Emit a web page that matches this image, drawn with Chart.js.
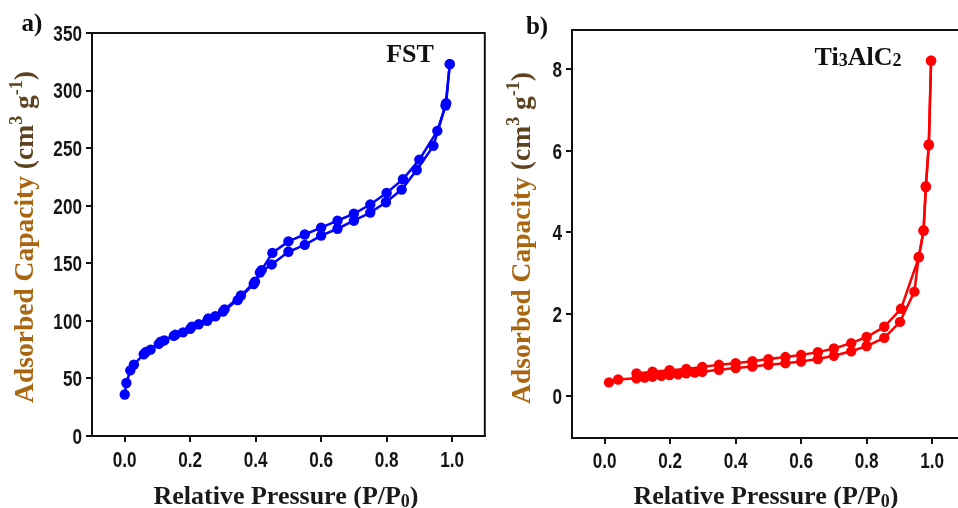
<!DOCTYPE html>
<html>
<head>
<meta charset="utf-8">
<script src="https://cdn.jsdelivr.net/npm/chart.js@4.4.1/dist/chart.umd.min.js"></script>
<style>
  html, body { margin: 0; padding: 0; background: #fff; overflow: hidden; width: 958px; height: 508px; }
  #panelA { position: absolute; left: 0; top: 0; }
  #panelB { position: absolute; left: 490px; top: 0; }
</style>
</head>
<body>
<canvas id="panelA" width="490" height="508"></canvas>
<canvas id="panelB" width="480" height="508"></canvas>
<script>
// ---- N2 isotherm data: FST ----
const fstAdsP = [0.000, 0.005, 0.017, 0.028, 0.058, 0.079, 0.104, 0.121, 0.150, 0.178, 0.200, 0.226, 0.252, 0.277, 0.300, 0.345, 0.394, 0.413, 0.449, 0.500, 0.550, 0.600, 0.650, 0.700, 0.750, 0.798, 0.846, 0.892, 0.943, 0.980, 0.993];
const fstAdsQ = [36, 46, 57, 62, 71, 75, 80, 83, 87, 90, 93, 97, 100, 104, 108, 118, 132, 142, 149, 160, 166, 174, 180, 187, 194, 203, 214, 231, 252, 287, 323];
const fstDesP = [0.993, 0.982, 0.955, 0.900, 0.850, 0.800, 0.750, 0.700, 0.650, 0.600, 0.550, 0.500, 0.451, 0.418, 0.398, 0.355, 0.305, 0.255, 0.205, 0.155, 0.110, 0.065];
const fstDesQ = [323, 289, 265, 240, 223, 211, 201, 193, 187, 181, 175, 169, 159, 144, 134, 122, 110, 102, 95, 88, 82, 73];

// ---- N2 isotherm data: Ti3AlC2 ----
const tacAdsP = [0.013, 0.041, 0.097, 0.122, 0.146, 0.173, 0.198, 0.224, 0.249, 0.275, 0.298, 0.349, 0.400, 0.451, 0.500, 0.552, 0.600, 0.651, 0.700, 0.753, 0.800, 0.854, 0.902, 0.946, 0.959, 0.974, 0.981, 0.990, 0.997];
const tacAdsQ = [0.33, 0.40, 0.43, 0.45, 0.47, 0.49, 0.51, 0.53, 0.55, 0.57, 0.59, 0.64, 0.68, 0.72, 0.76, 0.80, 0.84, 0.90, 0.98, 1.09, 1.22, 1.42, 1.81, 2.55, 3.39, 4.04, 5.11, 6.13, 8.20];
const tacDesP = [0.997, 0.990, 0.981, 0.974, 0.960, 0.905, 0.854, 0.800, 0.753, 0.700, 0.651, 0.600, 0.552, 0.500, 0.451, 0.400, 0.349, 0.298, 0.249, 0.198, 0.146, 0.097];
const tacDesQ = [8.20, 6.15, 5.13, 4.05, 3.40, 2.13, 1.69, 1.44, 1.29, 1.16, 1.07, 1.00, 0.95, 0.90, 0.85, 0.80, 0.76, 0.71, 0.66, 0.63, 0.59, 0.55];

// ---- tick labels ----
const pressureTicks = [0.0, 0.2, 0.4, 0.6, 0.8, 1.0];
const fstTicks = [0, 50, 100, 150, 200, 250, 300, 350];
const tacTicks = [0, 2, 4, 6, 8];

const SANS = "'Liberation Sans', Arial, sans-serif";
const SERIF = "'Liberation Serif', 'Times New Roman', serif";

function pairs(xs, ys) { return xs.map((x, i) => ({ x: x, y: ys[i] })); }

function series(xs, ys, color) {
  return {
    data: pairs(xs, ys), showLine: true, borderColor: color, backgroundColor: color,
    borderWidth: 2.5, pointRadius: 5.2, pointBorderWidth: 0, pointHoverRadius: 5.2, tension: 0
  };
}

// draw a sequence of text runs (for sub/superscripts), centred on x
function drawRuns(ctx, runs, x, y) {
  let total = 0;
  runs.forEach(r => { ctx.font = 'bold ' + r.size + 'px ' + SERIF; r.w = ctx.measureText(r.t).width; total += r.w; });
  let cx = x - total / 2;
  ctx.textBaseline = 'alphabetic';
  ctx.textAlign = 'left';
  runs.forEach(r => {
    ctx.font = 'bold ' + r.size + 'px ' + SERIF;
    ctx.fillStyle = r.color;
    ctx.fillText(r.t, cx, y + (r.dy || 0));
    cx += r.w;
  });
}

// narrow bold tick numbers placed through the chart's own scales
function tickLabels(cfg) {
  return {
    id: 'tickLabels',
    afterDraw(chart) {
      const ctx = chart.ctx, a = chart.chartArea;
      const sx = chart.scales.x, sy = chart.scales.y;
      ctx.save();
      ctx.font = 'bold 22px ' + SANS;
      ctx.fillStyle = '#151515';
      ctx.textBaseline = 'alphabetic';
      ctx.textAlign = 'center';
      pressureTicks.forEach(v => {
        ctx.save();
        ctx.translate(sx.getPixelForValue(v), a.bottom + cfg.xLabelDrop);
        ctx.scale(0.78, 1);
        ctx.fillText(v.toFixed(1), 0, 0);
        ctx.restore();
      });
      ctx.textAlign = 'right';
      cfg.yTicks.forEach(v => {
        ctx.save();
        ctx.translate(a.left - 10, sy.getPixelForValue(v) + 7.9);
        ctx.scale(0.78, 1);
        ctx.fillText(String(v), 0, 0);
        ctx.restore();
      });
      ctx.restore();
    }
  };
}

const framePlugin = {
  id: 'frame',
  afterDraw(chart) {
    const { ctx, chartArea: a } = chart;
    ctx.save();
    ctx.strokeStyle = '#111';
    ctx.lineWidth = 2;
    ctx.strokeRect(a.left, a.top, a.right - a.left, a.bottom - a.top);
    ctx.restore();
  }
};

function annotations(cfg) {
  return {
    id: 'annot',
    afterDraw(chart) {
      const ctx = chart.ctx;
      ctx.save();
      // panel letter
      drawRuns(ctx, [{ t: cfg.letter, size: 25, color: '#111' }], cfg.letterX, cfg.letterY);
      // sample name
      drawRuns(ctx, cfg.sample, cfg.sampleX, cfg.sampleY);
      // x-axis title
      const ink = '#1a1a1a';
      drawRuns(ctx, [
        { t: 'Relative Pressure (P/P', size: 26, color: ink },
        { t: '0', size: 18, color: ink, dy: 3 },
        { t: ')', size: 26, color: ink }
      ], cfg.xTitleX, cfg.xTitleY);
      // y-axis title
      ctx.translate(cfg.yTitleX, cfg.yTitleY);
      ctx.rotate(-Math.PI / 2);
      const brown = '#a9650f', dark = '#5e4320';
      drawRuns(ctx, [
        { t: 'Adsorbed Capacity ', size: 27.5, color: brown },
        { t: '(cm', size: 27.5, color: dark },
        { t: '3', size: 18, color: dark, dy: -11 },
        { t: ' g', size: 27.5, color: dark },
        { t: '-1', size: 18, color: dark, dy: -11 },
        { t: ')', size: 27.5, color: dark }
      ], 0, 0);
      ctx.restore();
    }
  };
}

function options(cfg) {
  return {
    responsive: false, animation: false, devicePixelRatio: 1,
    layout: { padding: { top: cfg.padTop, right: cfg.padRight, left: 0, bottom: 0 } },
    plugins: { legend: { display: false }, tooltip: { enabled: false } },
    scales: {
      x: {
        type: 'linear', min: -0.1, max: 1.1,
        afterBuildTicks: s => { s.ticks = pressureTicks.map(v => ({ value: v })); },
        afterFit: s => { s.height = cfg.xAxisH; },
        ticks: { display: false },
        grid: { display: true, drawOnChartArea: false, drawTicks: true, tickLength: 6, color: '#111', lineWidth: 2 },
        border: { display: true, color: '#111', width: 2 }
      },
      y: {
        type: 'linear', min: cfg.yMin, max: cfg.yMax,
        afterBuildTicks: s => { s.ticks = cfg.yTicks.map(v => ({ value: v })); },
        afterFit: s => { s.width = cfg.yAxisW; },
        ticks: { display: false },
        grid: { display: true, drawOnChartArea: false, drawTicks: true, tickLength: 6, color: '#111', lineWidth: 2 },
        border: { display: true, color: '#111', width: 2 }
      }
    }
  };
}

// panel a) FST
new Chart(document.getElementById('panelA'), {
  type: 'scatter',
  data: { datasets: [series(fstAdsP, fstAdsQ, '#0000ff'), series(fstDesP, fstDesQ, '#0000ff')] },
  options: options({ padTop: 33, padRight: 4, xAxisH: 72, yAxisW: 92, yMin: 0, yMax: 350, yTicks: fstTicks }),
  plugins: [framePlugin, tickLabels({ yTicks: fstTicks, xLabelDrop: 31 }), annotations({
    letter: 'a)', letterX: 32, letterY: 31,
    sample: [{ t: 'FST', size: 26, color: '#111' }], sampleX: 410, sampleY: 62,
    xTitleX: 286, xTitleY: 504, yTitleX: 33, yTitleY: 237
  })]
});

// panel b) Ti3AlC2
new Chart(document.getElementById('panelB'), {
  type: 'scatter',
  data: { datasets: [series(tacAdsP, tacAdsQ, '#ff0000'), series(tacDesP, tacDesQ, '#ff0000')] },
  options: options({ padTop: 30, padRight: 4.5, xAxisH: 70, yAxisW: 82, yMin: -1.03, yMax: 8.95, yTicks: tacTicks }),
  plugins: [framePlugin, tickLabels({ yTicks: tacTicks, xLabelDrop: 29.5 }), annotations({
    letter: 'b)', letterX: 47, letterY: 34,
    sample: [
      { t: 'Ti', size: 26, color: '#111' },
      { t: '3', size: 18, color: '#111', dy: 1 },
      { t: 'AlC', size: 26, color: '#111' },
      { t: '2', size: 18, color: '#111', dy: 1 }
    ], sampleX: 368, sampleY: 65,
    xTitleX: 276, xTitleY: 504, yTitleX: 40, yTitleY: 238
  })]
});
</script>
</body>
</html>
